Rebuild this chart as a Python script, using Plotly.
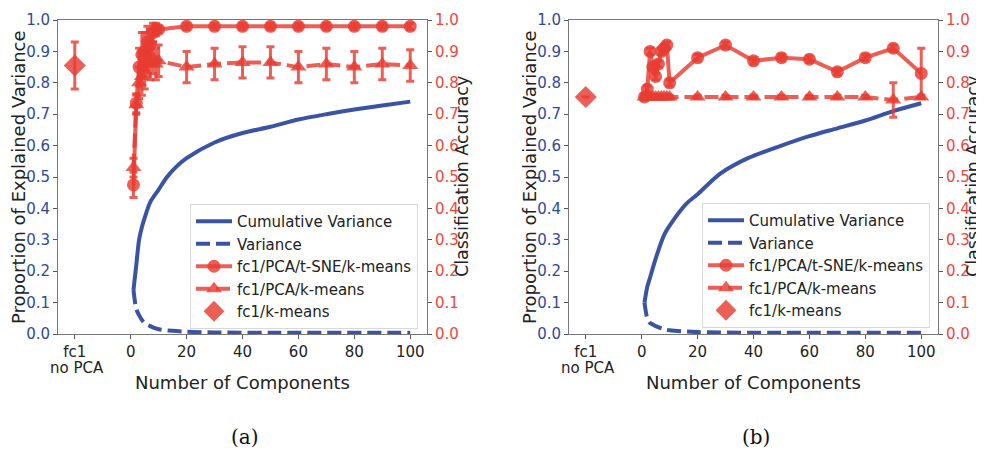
import plotly.graph_objects as go

# ---------------- data ----------------
comp_x = [1, 2, 3, 4, 5, 6, 7, 8, 9, 10, 20, 30, 40, 50, 60, 70, 80, 90, 100]
fc1_x = [-20]

# panel (a)
a_cum_x = [1, 2, 3, 4, 5, 7, 10, 13, 16, 20, 30, 40, 50, 60, 70, 80, 90, 100]
a_cum_y = [0.14, 0.22, 0.30, 0.34, 0.37, 0.42, 0.46, 0.50, 0.53, 0.56, 0.61, 0.64,
           0.66, 0.683, 0.70, 0.715, 0.728, 0.74]
a_var_x = [1, 2, 3, 4, 5, 7, 10, 15, 20, 30, 50, 100]
a_var_y = [0.14, 0.08, 0.06, 0.045, 0.035, 0.025, 0.015, 0.01, 0.007, 0.005, 0.004, 0.004]
a_tsne = [0.475, 0.735, 0.85, 0.89, 0.90, 0.93, 0.92, 0.96, 0.97, 0.97,
          0.98, 0.98, 0.98, 0.98, 0.98, 0.98, 0.98, 0.98, 0.98]
a_tsne_err = [0.04, 0.03, 0.06, 0.07, 0.06, 0.05, 0.05, 0.03, 0.02, 0.01,
              0.01, 0.01, 0.01, 0.01, 0.01, 0.01, 0.01, 0.01, 0.01]
a_pca = [0.53, 0.73, 0.80, 0.82, 0.84, 0.87, 0.86, 0.88, 0.86, 0.87,
         0.85, 0.86, 0.865, 0.865, 0.85, 0.86, 0.85, 0.86, 0.855]
a_pca_err = [0.03, 0.03, 0.05, 0.06, 0.06, 0.05, 0.05, 0.05, 0.05, 0.05,
             0.05, 0.05, 0.05, 0.05, 0.05, 0.05, 0.05, 0.05, 0.05]
a_km = [0.855]
a_km_err = [0.075]

# panel (b)
b_cum_x = [1, 2, 3, 5, 8, 10, 16, 20, 28, 38, 50, 60, 70, 80, 90, 100]
b_cum_y = [0.10, 0.15, 0.18, 0.24, 0.315, 0.345, 0.415, 0.445, 0.51, 0.56, 0.60,
           0.63, 0.655, 0.68, 0.71, 0.735]
b_var_x = [1, 2, 3, 4, 5, 8, 10, 20, 50, 100]
b_var_y = [0.10, 0.05, 0.035, 0.03, 0.025, 0.015, 0.012, 0.006, 0.004, 0.004]
b_tsne = [0.755, 0.78, 0.90, 0.85, 0.82, 0.86, 0.90, 0.91, 0.92, 0.80,
          0.88, 0.92, 0.87, 0.88, 0.875, 0.835, 0.88, 0.91, 0.83]
b_tsne_err = [0.01, 0.01, 0.01, 0.01, 0.01, 0.01, 0.01, 0.01, 0.01, 0.01,
              0.01, 0.01, 0.01, 0.01, 0.01, 0.01, 0.01, 0.01, 0.08]
b_pca = [0.755] * 17 + [0.745, 0.755]
b_pca_err = [0.005] * 17 + [0.055, 0.005]
b_km = [0.755]
b_km_err = [0.0]

x_tickvals = [-20, 0, 20, 40, 60, 80, 100]
x_ticktext = ["fc1", "0", "20", "40", "60", "80", "100"]
y_ticks = [i / 10 for i in range(11)]
y_ticktext = [f"{v:.1f}" for v in y_ticks]

# ---------------- styles ----------------
BLUE = "#3a54a3"
BLUE_TXT = "#2e4a9c"
RED = "rgba(232,60,50,0.82)"
RED_TXT = "#f0463c"
FONT = "DejaVu Sans"
DASH = "14px,6px"

fig = go.Figure()


def add_panel(cx, cy, vx, vy, ts, ts_e, pc, pc_e, km, km_e, xa, ya, ya2, leg):
    fig.add_trace(go.Scatter(x=cx, y=cy, mode="lines", name="Cumulative Variance",
                             line=dict(color=BLUE, width=4, shape="spline", smoothing=0.8),
                             xaxis=xa, yaxis=ya, legend=leg))
    fig.add_trace(go.Scatter(x=vx, y=vy, mode="lines", name="Variance",
                             line=dict(color=BLUE, width=4, dash=DASH, shape="spline", smoothing=0.8),
                             xaxis=xa, yaxis=ya, legend=leg))
    fig.add_trace(go.Scatter(x=comp_x, y=ts, mode="lines+markers", name="fc1/PCA/t-SNE/k-means",
                             line=dict(color=RED, width=4),
                             marker=dict(symbol="circle", size=13, color=RED),
                             error_y=dict(type="data", array=ts_e, color=RED, thickness=3, width=4),
                             xaxis=xa, yaxis=ya2, legend=leg))
    fig.add_trace(go.Scatter(x=comp_x, y=pc, mode="lines+markers", name="fc1/PCA/k-means",
                             line=dict(color=RED, width=4, dash=DASH),
                             marker=dict(symbol="triangle-up", size=14, color=RED),
                             error_y=dict(type="data", array=pc_e, color=RED, thickness=3, width=4),
                             xaxis=xa, yaxis=ya2, legend=leg))
    fig.add_trace(go.Scatter(x=fc1_x, y=km, mode="markers", name="fc1/k-means",
                             marker=dict(symbol="diamond", size=17, color=RED),
                             error_y=dict(type="data", array=km_e, color=RED, thickness=3, width=4),
                             xaxis=xa, yaxis=ya2, legend=leg))


add_panel(a_cum_x, a_cum_y, a_var_x, a_var_y, a_tsne, a_tsne_err, a_pca, a_pca_err,
          a_km, a_km_err, "x", "y", "y2", "legend")
add_panel(b_cum_x, b_cum_y, b_var_x, b_var_y, b_tsne, b_tsne_err, b_pca, b_pca_err,
          b_km, b_km_err, "x2", "y3", "y4", "legend2")

# the page body has an 8px margin; the figure is sized to fill the rest of the window
OFF = 8
W, H = 984 - OFF, 451 - OFF


def py(pix):
    return (H - (pix - OFF)) / H


def px(pix):
    return (pix - OFF) / W


ydom = [py(334), py(20)]
dom_a = [px(58), px(427)]
dom_b = [px(569), px(938)]

axline = dict(showline=True, linecolor="#777", linewidth=1, ticks="outside",
              ticklen=4, tickcolor="#555", showgrid=False, zeroline=False, automargin=False)

xcommon = dict(range=[-26, 106], tickvals=x_tickvals, ticktext=x_ticktext, mirror=True,
               tickfont=dict(family=FONT, size=15, color="#222"), **axline)
yleft = dict(range=[0, 1], tickvals=y_ticks, ticktext=y_ticktext,
             tickfont=dict(family=FONT, size=15, color=BLUE_TXT), **axline)
yright = dict(range=[0, 1], tickvals=y_ticks, ticktext=y_ticktext, side="right",
              tickfont=dict(family=FONT, size=15, color=RED_TXT), **axline)

legcommon = dict(font=dict(family=FONT, size=15, color="#222"), bgcolor="rgba(255,255,255,0.9)",
                 bordercolor="#d8d8d8", borderwidth=1, xanchor="left", yanchor="top",
                 itemwidth=36, tracegroupgap=0)

tfont = dict(family=FONT, size=18, color="#222")
annots = []
for off, cap in ((0, "(a)"), (511, "(b)")):
    annots += [
        dict(text="Proportion of Explained Variance", x=px(18 + off), y=py(177), textangle=-90,
             font=tfont),
        dict(text="Classification Accuracy", x=px(462 + off), y=py(177), textangle=-90,
             font=dict(family=FONT, size=17.5, color="#222")),
        dict(text="Number of Components", x=px(242 + off), y=py(382), font=tfont),
        dict(text="no PCA", x=px(77 + off), y=py(368),
             font=dict(family=FONT, size=15, color="#222")),
        dict(text=cap, x=px(245 + off), y=py(437),
             font=dict(family="DejaVu Serif", size=20, color="#111")),
    ]
for a in annots:
    a.update(xref="paper", yref="paper", showarrow=False, xanchor="center", yanchor="middle")

fig.update_layout(
    width=W, height=H, margin=dict(l=0, r=0, t=0, b=0, autoexpand=False),
    paper_bgcolor="white", plot_bgcolor="white",
    xaxis=dict(domain=dom_a, anchor="y", **xcommon),
    yaxis=dict(domain=ydom, anchor="x", **yleft),
    yaxis2=dict(overlaying="y", anchor="x", **yright),
    xaxis2=dict(domain=dom_b, anchor="y3", **xcommon),
    yaxis3=dict(domain=ydom, anchor="x2", **yleft),
    yaxis4=dict(overlaying="y3", anchor="x2", **yright),
    legend=dict(x=px(190), y=py(204), **legcommon),
    legend2=dict(x=px(702), y=py(203), **legcommon),
    annotations=annots,
)

fig.write_html("out.html")
